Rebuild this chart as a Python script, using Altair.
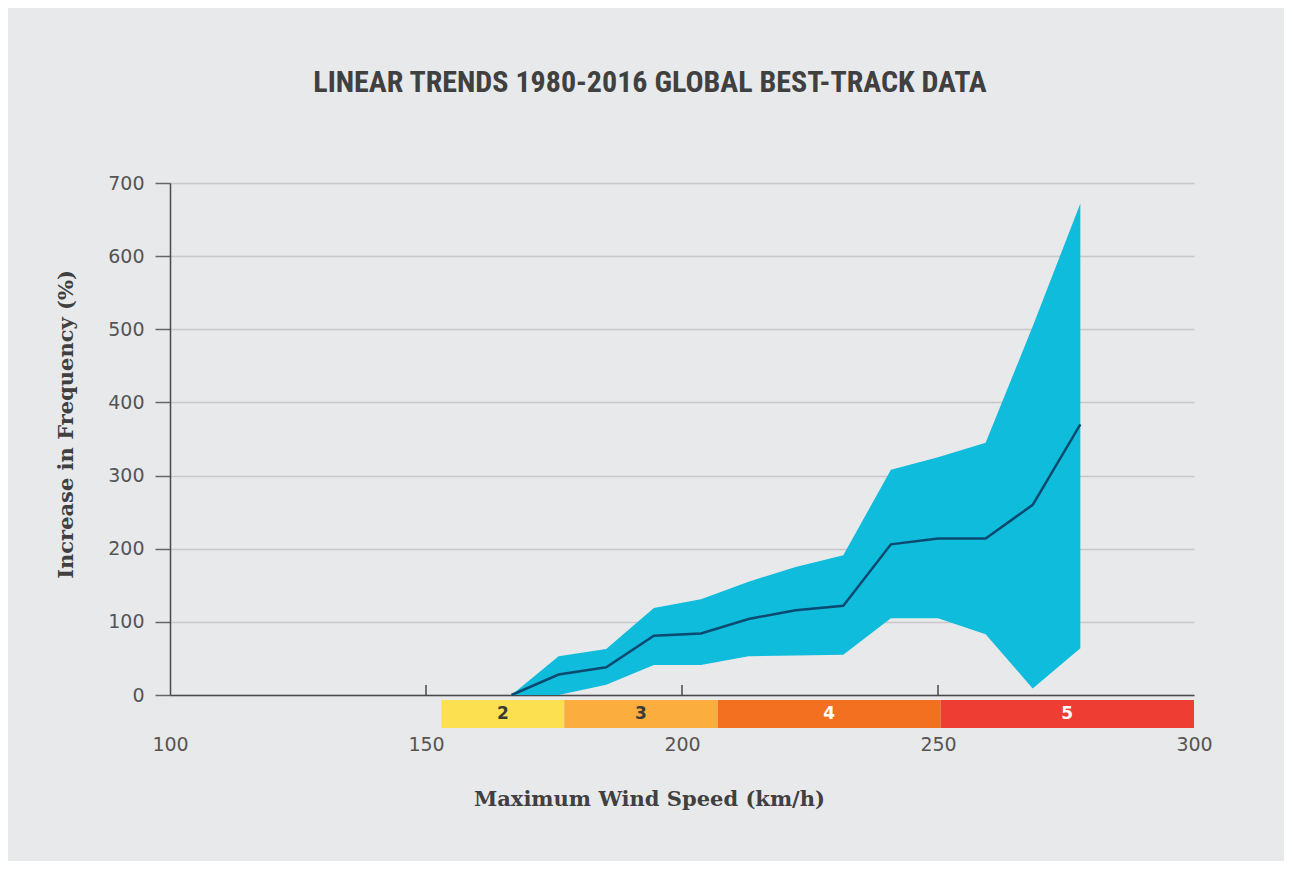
import altair as alt
import pandas as pd

# ---- data ----
wind_kmh = [166.7, 175.9, 185.2, 194.5, 203.7, 213.0, 222.2, 231.5, 240.8, 250.0, 259.3, 268.5, 277.8]
trend_mid = [0, 28, 38, 81, 84, 104, 116, 122, 206, 214, 214, 260, 370]
trend_low = [0, 0, 14, 41, 41, 53, 54, 55, 105, 105, 83, 9, 64]
trend_high = [0, 53, 63, 119, 131, 155, 175, 191, 308, 325, 345, 504, 672]

cat_labels = ["2", "3", "4", "5"]
cat_start = [153, 177, 207, 250.5]
cat_end = [177, 207, 250.5, 300]
cat_colors = ["#fde04f", "#fbae3d", "#f37021", "#ee3e33"]
cat_text_colors = ["#3a3a3a", "#3a3a3a", "#ffffff", "#ffffff"]

x_ticks = [100, 150, 200, 250, 300]
inner_ticks = [150, 200, 250]
y_ticks = [0, 100, 200, 300, 400, 500, 600, 700]

df = pd.DataFrame({"x": wind_kmh, "mid": trend_mid, "lo": trend_low, "hi": trend_high})
cats = pd.DataFrame({"cat": cat_labels, "start": cat_start, "end": cat_end,
                     "color": cat_colors, "tcolor": cat_text_colors})
cats["center"] = (cats["start"] + cats["end"]) / 2
ticks_df = pd.DataFrame({"t": inner_ticks})

W, H = 1024, 512
BG = "#e8e9eb"
LABEL_FONT = "DejaVu Sans"
TITLE_FONT = "DejaVu Serif"

xscale = alt.Scale(domain=[100, 300], nice=False, zero=False)
yscale = alt.Scale(domain=[0, 700], nice=False)

x_axis = alt.Axis(values=x_ticks, ticks=False, grid=False, domain=True,
                  domainColor="#4a4a4a", domainWidth=1.5,
                  labelPadding=40, labelFont=LABEL_FONT, labelFontSize=19,
                  labelColor="#555555", labelFlush=False,
                  title="Maximum Wind Speed (km/h)", titleFont=TITLE_FONT,
                  titleFontSize=21, titleFontWeight="bold", titleColor="#404040",
                  titleX=479, titleY=104, titleAnchor="middle", titleAlign="center",
                  titleBaseline="middle")
y_axis = alt.Axis(values=y_ticks, grid=True, gridColor="#c8c8ca", gridWidth=1.5,
                  domain=True, domainColor="#4a4a4a", domainWidth=1.5,
                  ticks=True, tickSize=15, tickColor="#666666", tickWidth=1.5,
                  labelPadding=11, labelFont=LABEL_FONT, labelFontSize=19,
                  labelColor="#555555",
                  title="Increase in Frequency (%)", titleFont=TITLE_FONT,
                  titleFontSize=21, titleFontWeight="bold", titleColor="#404040",
                  titleX=-104, titleY=241, titleAngle=-90, titleAlign="center",
                  titleBaseline="middle")

area = alt.Chart(df).mark_area(color="#0fbcdc", opacity=1).encode(
    x=alt.X("x:Q", scale=xscale, axis=x_axis),
    y=alt.Y("lo:Q", scale=yscale, axis=y_axis),
    y2="hi:Q",
)
line = alt.Chart(df).mark_line(color="#0b4a70", strokeWidth=2.5).encode(
    x=alt.X("x:Q", scale=xscale),
    y=alt.Y("mid:Q", scale=yscale),
)
tick_rules = alt.Chart(ticks_df).mark_rule(color="#4a4a4a", strokeWidth=1.5).encode(
    x=alt.X("t:Q", scale=xscale),
    y=alt.value(H - 10),
    y2=alt.value(H),
)
bands = alt.Chart(cats).mark_rect().encode(
    x=alt.X("start:Q", scale=xscale),
    x2="end:Q",
    y=alt.value(H + 5),
    y2=alt.value(H + 33),
    color=alt.Color("color:N", scale=None, legend=None),
)
band_text = alt.Chart(cats).mark_text(font=LABEL_FONT, fontSize=17, fontWeight="bold",
                                      baseline="middle", align="center").encode(
    x=alt.X("center:Q", scale=xscale),
    y=alt.value(H + 19),
    text="cat:N",
    color=alt.Color("tcolor:N", scale=None, legend=None),
)

chart = alt.layer(area, line, tick_rules, bands, band_text).properties(
    width=W, height=H,
    background=BG,
    autosize=alt.AutoSizeParams(type="none"),
    padding={"left": 162, "top": 175, "right": 90, "bottom": 166},
    title=alt.Title("LINEAR TRENDS 1980-2016 GLOBAL BEST-TRACK DATA",
                    font="'Roboto Condensed', 'DejaVu Sans Condensed', 'Liberation Sans Narrow', Roboto",
                    fontSize=30, fontWeight="bold",
                    color="#404040", anchor="middle", dx=-32, offset=76),
).configure_view(stroke=None, fill=BG)

chart.save("out.html", embed_options={"renderer": "svg", "actions": False})
